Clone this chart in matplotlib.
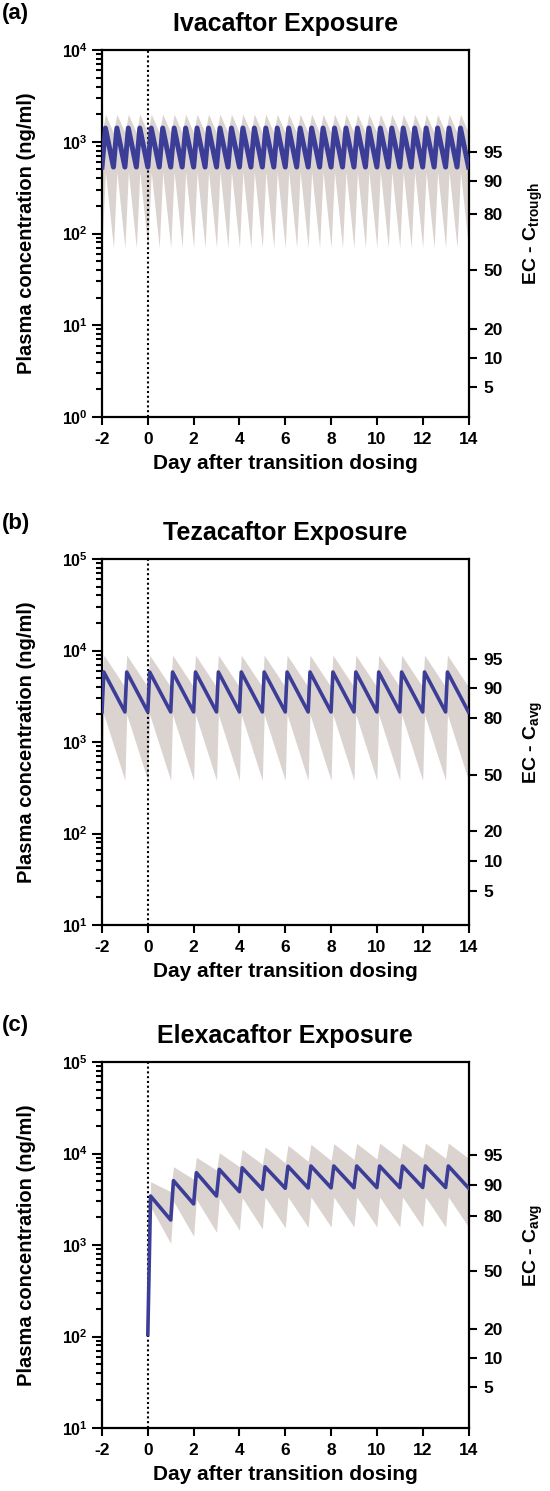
import matplotlib
matplotlib.use('Agg')
import matplotlib.pyplot as plt
from matplotlib.ticker import FixedLocator, FixedFormatter, NullLocator, LogLocator

plt.rcParams['font.family'] = ['Liberation Sans', 'DejaVu Sans']
plt.rcParams['font.weight'] = 'bold'
plt.rcParams['mathtext.default'] = 'regular'

BLUE = '#3b3d97'
GREY = '#dad3d0'

# ---- Ivacaftor (q12h) ----
iva_dose = [-2.0, -1.5, -1.0, -0.5, 0.0, 0.5, 1.0, 1.5, 2.0, 2.5, 3.0, 3.5, 4.0, 4.5, 5.0, 5.5,
            6.0, 6.5, 7.0, 7.5, 8.0, 8.5, 9.0, 9.5, 10.0, 10.5, 11.0, 11.5, 12.0, 12.5, 13.0, 13.5]
iva_tmax = 0.15
# troughs: value at each dose time + at day 14
iva_med_trough = [530, 530, 530, 530, 530, 530, 530, 530, 530, 530, 530, 530, 530, 530, 530, 530, 530,
                  530, 530, 530, 530, 530, 530, 530, 530, 530, 530, 530, 530, 530, 530, 530, 530]
iva_med_peak = [1410, 1410, 1410, 1410, 1410, 1410, 1410, 1410, 1410, 1410, 1410, 1410, 1410, 1410, 1410, 1410,
                1410, 1410, 1410, 1410, 1410, 1410, 1410, 1410, 1410, 1410, 1410, 1410, 1410, 1410, 1410, 1410]
iva_hi_trough = [1250, 1250, 1250, 1250, 1250, 1250, 1250, 1250, 1250, 1250, 1250, 1250, 1250, 1250, 1250, 1250,
                 1250, 1250, 1250, 1250, 1250, 1250, 1250, 1250, 1250, 1250, 1250, 1250, 1250, 1250, 1250, 1250, 1250]
iva_hi_peak = [2000, 2000, 2000, 2000, 2000, 2000, 2000, 2000, 2000, 2000, 2000, 2000, 2000, 2000, 2000, 2000,
               2000, 2000, 2000, 2000, 2000, 2000, 2000, 2000, 2000, 2000, 2000, 2000, 2000, 2000, 2000, 2000]
iva_lo_trough = [70, 70, 70, 70, 70, 70, 70, 70, 70, 70, 70, 70, 70, 70, 70, 70, 70,
                 70, 70, 70, 70, 70, 70, 70, 70, 70, 70, 70, 70, 70, 70, 70, 70]
iva_lo_peak = [470, 470, 470, 470, 470, 470, 470, 470, 470, 470, 470, 470, 470, 470, 470, 470,
               470, 470, 470, 470, 470, 470, 470, 470, 470, 470, 470, 470, 470, 470, 470, 470]
iva_ec = ['95', '90', '80', '50', '20', '10', '5']
iva_ec_conc = [780, 373, 162, 40, 9.2, 4.4, 2.1]

# ---- Tezacaftor (q24h) ----
teza_dose = [-2, -1, 0, 1, 2, 3, 4, 5, 6, 7, 8, 9, 10, 11, 12, 13]
teza_tmax = 0.08
teza_med_trough = [2130, 2130, 2130, 2130, 2130, 2130, 2130, 2130, 2130, 2130, 2130, 2130, 2130, 2130, 2130, 2130, 2130]
teza_med_peak = [5820, 5820, 5820, 5820, 5820, 5820, 5820, 5820, 5820, 5820, 5820, 5820, 5820, 5820, 5820, 5820]
teza_hi_trough = [4000, 4000, 4000, 4000, 4000, 4000, 4000, 4000, 4000, 4000, 4000, 4000, 4000, 4000, 4000, 4000, 4000]
teza_hi_peak = [8900, 8900, 8900, 8900, 8900, 8900, 8900, 8900, 8900, 8900, 8900, 8900, 8900, 8900, 8900, 8900]
teza_lo_trough = [380, 380, 380, 380, 380, 380, 380, 380, 380, 380, 380, 380, 380, 380, 380, 380, 380]
teza_lo_peak = [2000, 2000, 2000, 2000, 2000, 2000, 2000, 2000, 2000, 2000, 2000, 2000, 2000, 2000, 2000, 2000]
teza_ec = ['95', '90', '80', '50', '20', '10', '5']
teza_ec_conc = [8070, 3890, 1830, 436, 106, 50, 23.5]

# ---- Elexacaftor (q24h, starts day 0) ----
elx_dose = [0, 1, 2, 3, 4, 5, 6, 7, 8, 9, 10, 11, 12, 13]
elx_tmax = 0.12
elx_med_trough = [105, 1875, 2810, 3430, 3830, 4060, 4170, 4200, 4220, 4230, 4240, 4240, 4250, 4250, 4200]
elx_med_peak = [3430, 5050, 6170, 6710, 6980, 7150, 7250, 7300, 7300, 7300, 7300, 7300, 7300, 7300]
elx_hi_trough = [105, 3830, 5230, 6600, 7180, 7600, 7900, 8200, 8400, 8600, 8700, 8800, 8860, 8860, 8860]
elx_hi_peak = [4920, 7180, 9080, 10200, 11100, 11800, 12300, 12600, 12800, 12900, 13000, 13000, 13000, 13000]
elx_lo_trough = [105, 1040, 1250, 1380, 1450, 1500, 1540, 1560, 1575, 1575, 1575, 1575, 1575, 1575, 1575]
elx_lo_peak = [2620, 3000, 3150, 3250, 3300, 3330, 3350, 3350, 3350, 3350, 3350, 3350, 3350, 3350]
elx_ec = ['95', '90', '80', '50', '20', '10', '5']
elx_ec_conc = [9630, 4530, 2075, 520, 121, 58, 28]

x_ticks = [-2, 0, 2, 4, 6, 8, 10, 12, 14]


def saw(dose, tmax, end, trough, peak):
    t, v = [], []
    for i, d in enumerate(dose):
        t += [d, d + tmax]
        v += [trough[i], peak[i]]
    t.append(end)
    v.append(trough[-1])
    return t, v


W, H = 550, 1491
fig = plt.figure(figsize=(W / 100, H / 100), dpi=100)
AX_L, AX_R = 102, 468.5


def panel(top, bottom, letter, title, ylim, decades, dose, tmax, med, hi, lo, ec, ec_conc, sub, lw):
    ax = fig.add_axes([AX_L / W, 1 - bottom / H, (AX_R - AX_L) / W, (bottom - top) / H])
    t, m = saw(dose, tmax, 14, *med)
    _, u = saw(dose, tmax, 14, *hi)
    _, l = saw(dose, tmax, 14, *lo)
    ax.fill_between(t, l, u, color=GREY, lw=0, zorder=1)
    ax.axvline(0, color='black', ls=(0, (1, 1.3)), lw=1.5, zorder=2)
    ax.plot(t, m, color=BLUE, lw=lw, zorder=3, solid_joinstyle='round')
    ax.set_yscale('log')
    ax.set_ylim(*ylim)
    ax.set_xlim(-2, 14)
    ax.set_xticks(x_ticks)
    ax.set_xticklabels([str(x) for x in x_ticks])
    ax.yaxis.set_major_locator(FixedLocator([10.0 ** d for d in decades]))
    ax.yaxis.set_major_formatter(FixedFormatter(['$10^{%d}$' % d for d in decades]))
    ax.yaxis.set_minor_locator(LogLocator(base=10, subs=range(2, 10)))
    for s in ax.spines.values():
        s.set_linewidth(1.6)
    ax.tick_params(axis='x', which='major', direction='out', length=6, width=1.5,
                   labelsize=12.5, pad=5)
    ax.tick_params(axis='y', which='major', direction='out', length=7, width=1.5,
                   labelsize=11.5, pad=3)
    ax.tick_params(axis='y', which='minor', direction='out', length=4.5, width=1.5)
    ax.tick_params(axis='x', which='minor', bottom=False)
    ax.set_xlabel('Day after transition dosing', fontsize=15, fontweight='bold', labelpad=5)
    ax.set_ylabel('Plasma concentration (ng/ml)', fontsize=14.5, fontweight='bold')
    ax.yaxis.set_label_coords((36 - AX_L) / (AX_R - AX_L), 0.5)

    ax2 = ax.twinx()
    ax2.set_yscale('log')
    ax2.set_ylim(*ylim)
    ax2.yaxis.set_major_locator(FixedLocator(ec_conc))
    ax2.yaxis.set_major_formatter(FixedFormatter(ec))
    ax2.yaxis.set_minor_locator(NullLocator())
    for s in ax2.spines.values():
        s.set_visible(False)
    ax2.tick_params(axis='y', which='major', direction='out', length=6, width=1.5,
                    labelsize=12.5, pad=5)
    ax2.set_ylabel('EC - C$_{%s}$' % sub, fontsize=14, fontweight='bold')
    ax2.yaxis.set_label_coords((522 - AX_L) / (AX_R - AX_L), 0.5)

    fig.text((AX_L + AX_R) / 2 / W, 1 - (top - 26) / H, title, ha='center', va='center',
             fontsize=18, fontweight='bold')
    fig.text(0.003, 1 - (top - 36) / H, letter, ha='left', va='center',
             fontsize=16, fontweight='bold')
    return ax


panel(50, 417, '(a)', 'Ivacaftor Exposure', (1, 1e4), [0, 1, 2, 3, 4],
      iva_dose, iva_tmax, (iva_med_trough, iva_med_peak), (iva_hi_trough, iva_hi_peak),
      (iva_lo_trough, iva_lo_peak), iva_ec, iva_ec_conc, 'trough', 3.6)
panel(559, 925, '(b)', 'Tezacaftor Exposure', (10, 1e5), [1, 2, 3, 4, 5],
      teza_dose, teza_tmax, (teza_med_trough, teza_med_peak), (teza_hi_trough, teza_hi_peak),
      (teza_lo_trough, teza_lo_peak), teza_ec, teza_ec_conc, 'avg', 2.6)
panel(1062, 1428, '(c)', 'Elexacaftor Exposure', (10, 1e5), [1, 2, 3, 4, 5],
      elx_dose, elx_tmax, (elx_med_trough, elx_med_peak), (elx_hi_trough, elx_hi_peak),
      (elx_lo_trough, elx_lo_peak), elx_ec, elx_ec_conc, 'avg', 2.6)

fig.savefig('out.png', dpi=100)
